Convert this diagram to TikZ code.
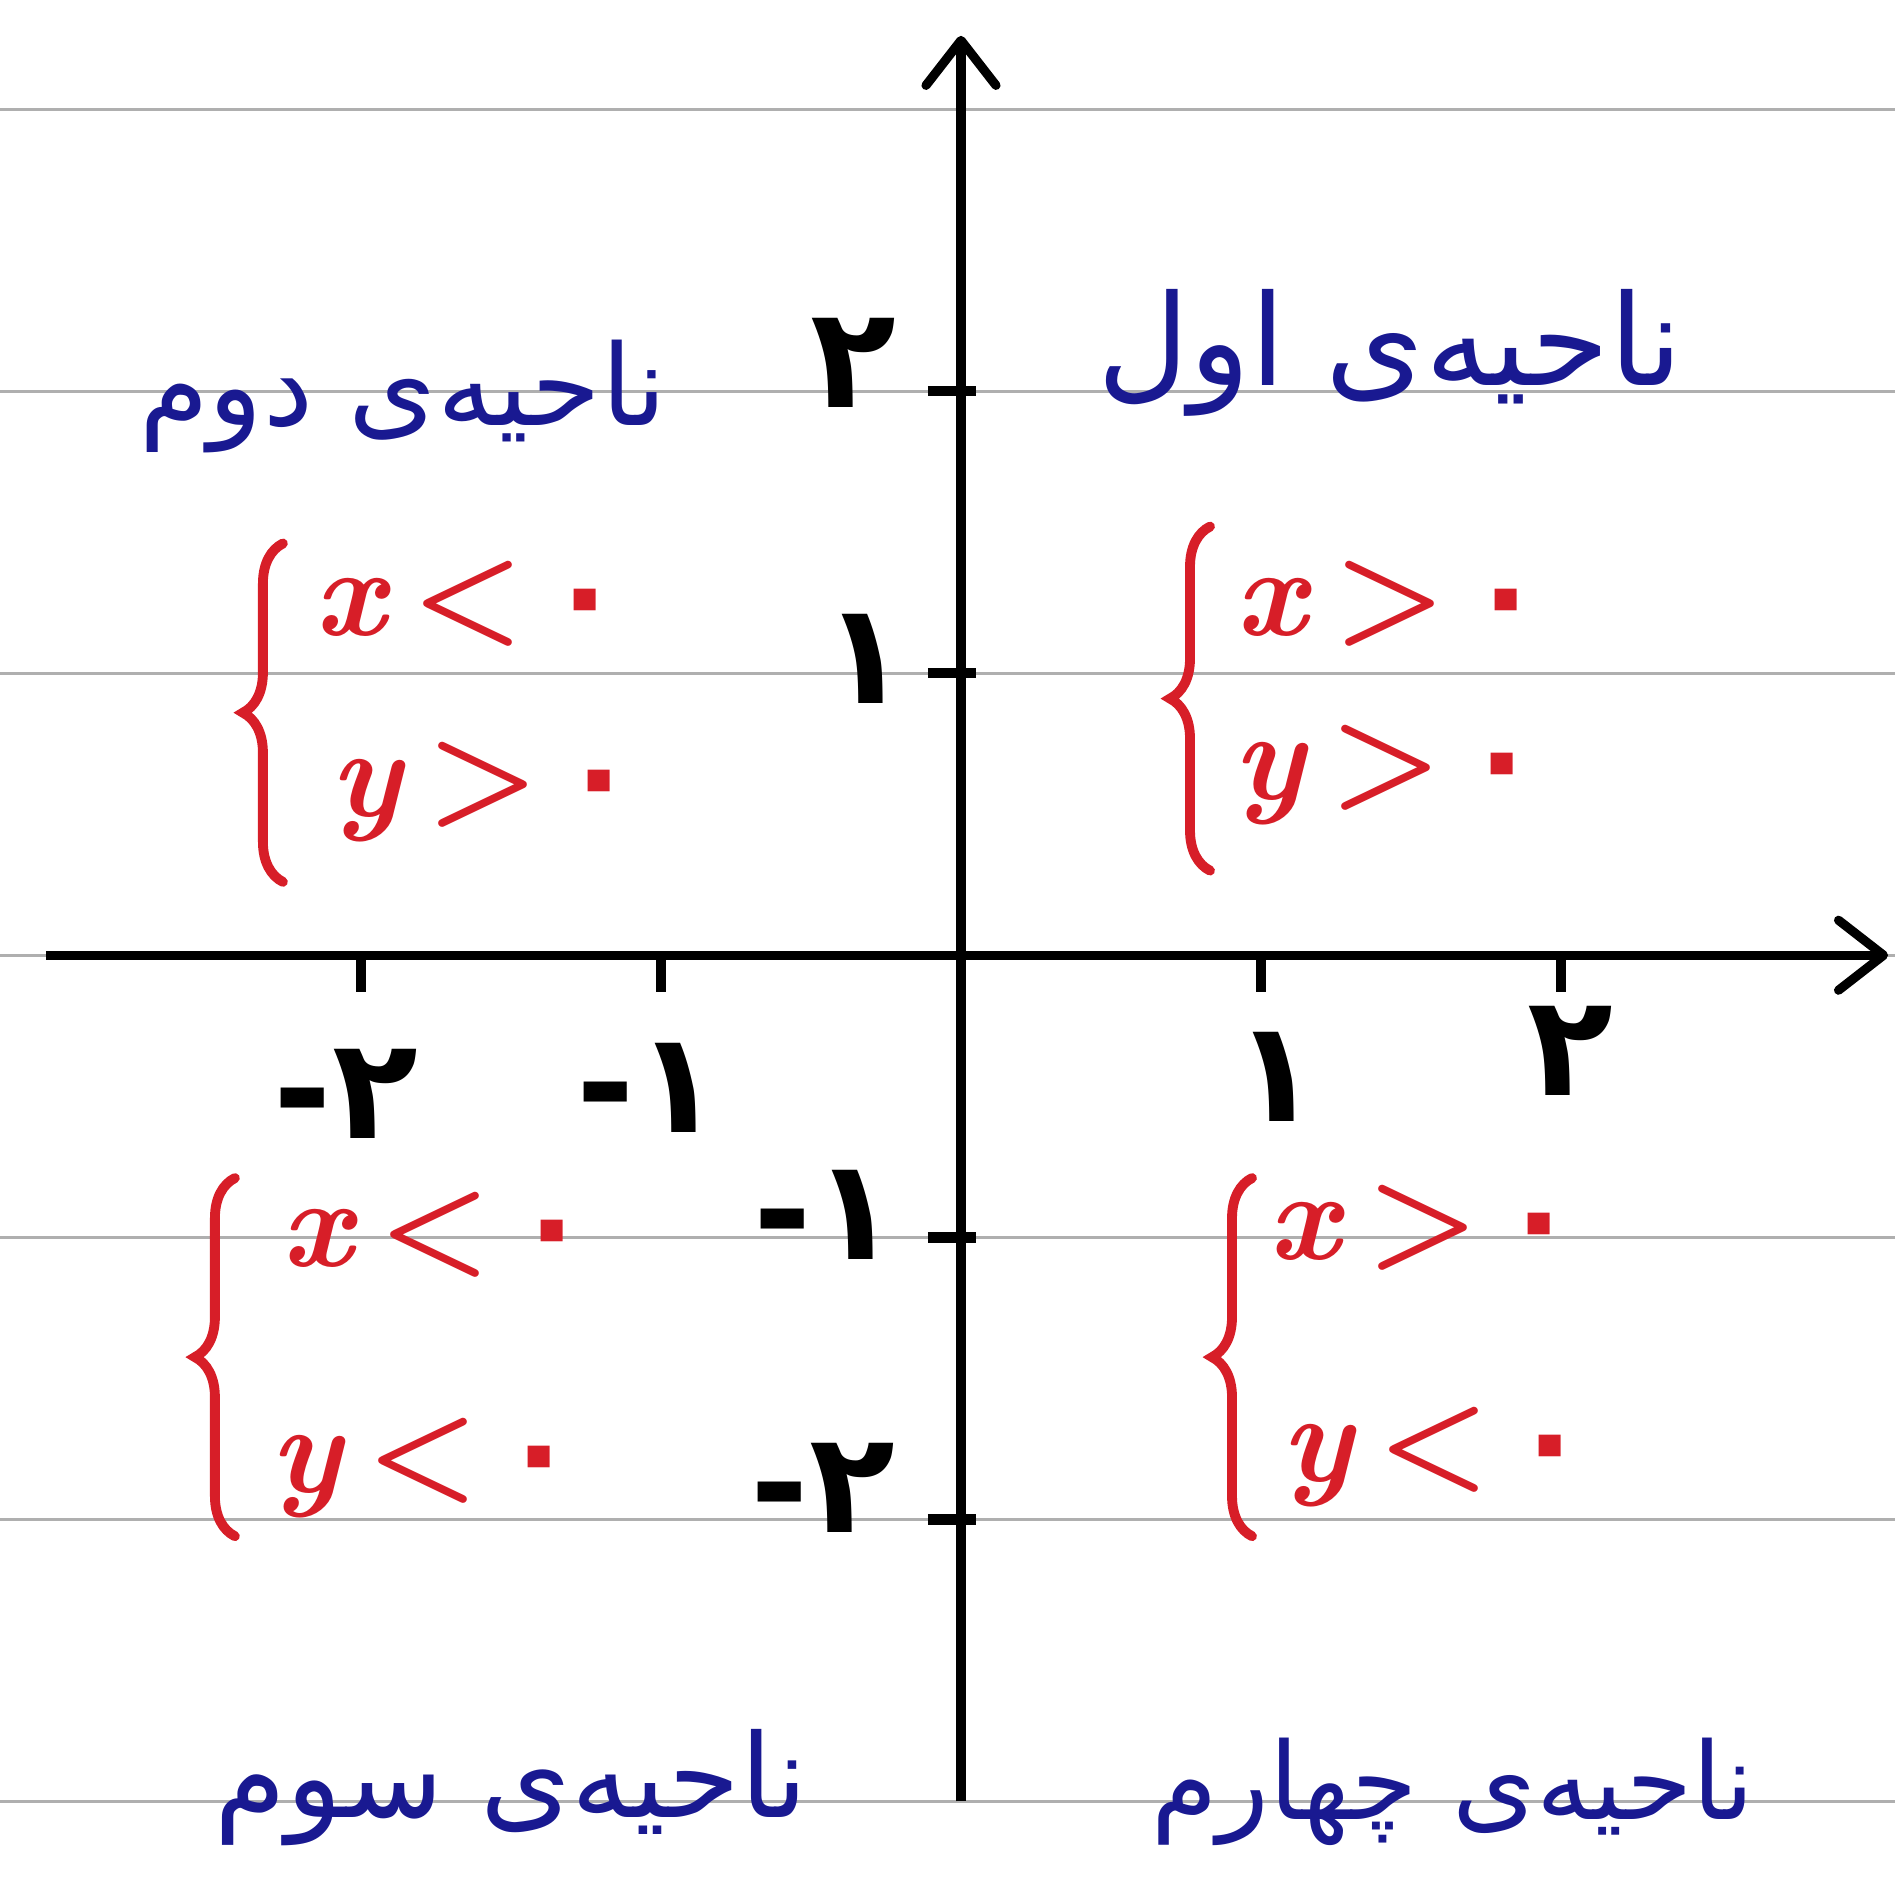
\documentclass[tikz,border=0pt]{standalone}
\usepackage{fontspec}
\newfontfamily\fafont[Script=Arabic]{DejaVu Sans}
\newfontfamily\dashfont{DejaVu Sans}
\TeXXeTstate=1
\definecolor{penBlue}{RGB}{25,25,145}
\definecolor{penRed}{RGB}{215,30,40}
\definecolor{ruleGray}{RGB}{175,175,175}
\usetikzlibrary{arrows.meta,decorations.pathreplacing}
\newcommand{\fzero}{{\fafont ۰}}
\newcommand{\mns}{{\dashfont -}}

\begin{document}
\begin{tikzpicture}[x=3cm, y=2.82cm,
  ruleline/.style={ruleGray, line width=0.9pt},
  axis/.style={line width=2.6pt, -{Straight Barb[round, length=4.5mm, width=7mm]}},
  axtick/.style={line width=3pt},
  ticklbl/.style={font=\fafont\bfseries\fontsize{40}{44}\selectfont, inner sep=0pt},
  quad/.style={font=\fafont\fontsize{#1}{#1}\selectfont, text=penBlue, inner sep=0pt},
  quad/.default=36,
  cond/.style={font=\bfseries\fontsize{36}{40}\selectfont, text=penRed, inner sep=0pt},
  curly/.style={penRed, line width=2.8pt, line cap=round, decorate,
                decoration={brace, amplitude=4mm}}
]
  \useasboundingbox (-3.203,-3.301) rectangle (3.113,3.387);

  % notebook lines
  \foreach \k in {-3,...,3}
    \draw[ruleline] (-3.203,\k) -- (3.113,\k);

  % axes
  \coordinate (xl) at (-3.05,0);
  \coordinate (xr) at (3.09,0);
  \coordinate (yb) at (0,-3.0);
  \coordinate (yt) at (0,3.26);
  \draw[axis] (xl) -- (xr);
  \draw[axis] (yb) -- (yt);
  \foreach \k in {-2,-1,1,2} {
    \draw[axtick] (-0.11,\k) -- (0.05,\k);
    \draw[axtick] (\k,0) -- (\k,-0.13);
  }

  % tick labels
  \node[ticklbl] (ylab2)  at (-0.36,2.10)  {۲};
  \node[ticklbl] (ylab1)  at (-0.32,1.05)  {۱};
  \node[ticklbl] (ylabm1) at (-0.45,-0.92) {\mns\fafont ۱};
  \node[ticklbl] (ylabm2) at (-0.46,-1.89) {\mns\fafont ۲};
  \node[ticklbl] (xlabm2) at (-2.05,-0.49) {\mns\fafont ۲};
  \node[ticklbl] (xlabm1) at (-1.04,-0.47) {\mns\fafont ۱};
  \node[ticklbl] (xlab1)  at (1.05,-0.43)  {۱};
  \node[ticklbl] (xlab2)  at (2.03,-0.34)  {۲};

  % quadrant names
  \node[quad] (q1name) at (1.43,2.135)      {\beginR ناحیه^^^^200cی اول\endR};
  \node[quad=32] (q2name) at (-1.86,1.98)   {\beginR ناحیه^^^^200cی دوم\endR};
  \node[quad=33] (q3name) at (-1.50,-2.95)  {\beginR ناحیه^^^^200cی سوم\endR};
  \node[quad=30.5] (q4name) at (1.64,-2.965) {\beginR ناحیه^^^^200cی چهارم\endR};

  % sign conditions
  \node[cond] (q1x) at (1.43,1.245)   {\textit{x}\,>\,\fzero};
  \node[cond] (q1y) at (1.42,0.64)    {\textit{y}\,>\,\fzero};
  \node[cond] (q2x) at (-1.64,1.245)  {\textit{x}\,<\,\fzero};
  \node[cond] (q2y) at (-1.59,0.58)   {\textit{y}\,>\,\fzero};
  \node[cond] (q3x) at (-1.75,-0.99)  {\textit{x}\,<\,\fzero};
  \node[cond] (q3y) at (-1.79,-1.82)  {\textit{y}\,<\,\fzero};
  \node[cond] (q4x) at (1.54,-0.965)  {\textit{x}\,>\,\fzero};
  \node[cond] (q4y) at (1.58,-1.78)   {\textit{y}\,<\,\fzero};

  \coordinate (q1bot) at (0.83,0.30);   \coordinate (q1top) at (0.83,1.52);
  \coordinate (q2bot) at (-2.26,0.26);  \coordinate (q2top) at (-2.26,1.46);
  \coordinate (q3bot) at (-2.42,-2.06); \coordinate (q3top) at (-2.42,-0.79);
  \coordinate (q4bot) at (0.97,-2.06);  \coordinate (q4top) at (0.97,-0.79);
  \draw[curly] (q1bot) -- (q1top);
  \draw[curly] (q2bot) -- (q2top);
  \draw[curly] (q3bot) -- (q3top);
  \draw[curly] (q4bot) -- (q4top);
\end{tikzpicture}
\end{document}
